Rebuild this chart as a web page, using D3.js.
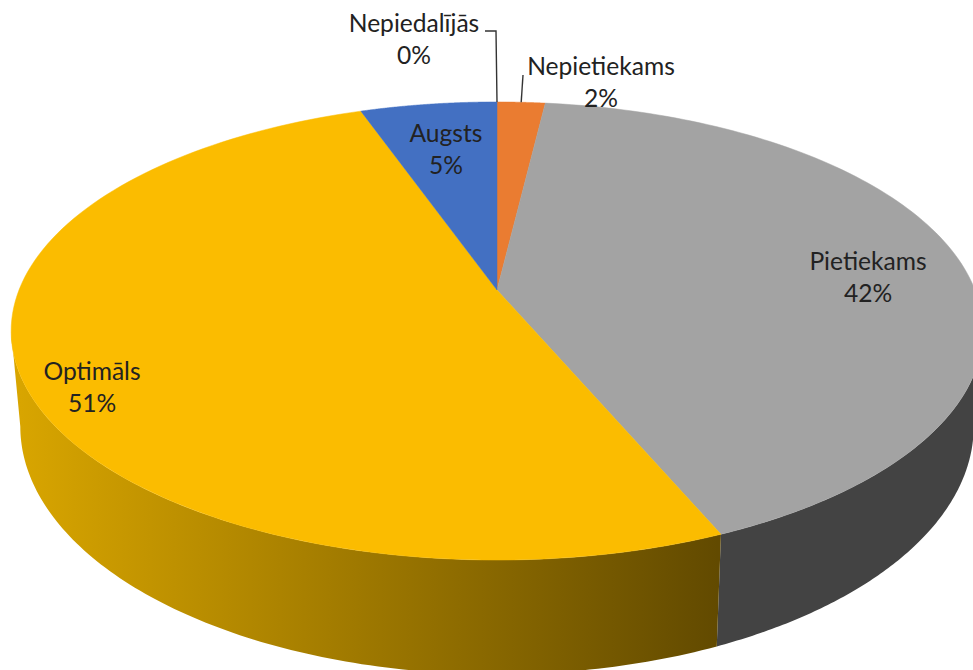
<!DOCTYPE html>
<html><head><meta charset="utf-8">
<script src="https://cdn.jsdelivr.net/npm/d3@7"></script>
<style>html,body{margin:0;padding:0;background:#fff;overflow:hidden}svg{display:block}text{font-family:Lato,"Open Sans",sans-serif;font-size:24.6px;fill:#222;text-anchor:middle}</style>
</head><body><svg id="c" width="973" height="670"></svg>
<script>
const categories=["Nepiedalījās","Nepietiekams","Pietiekams","Optimāls","Augsts"];
const values=[0,1.9,41.7,51,5.4];
const topColors=["#5B9BD5","#EA7C31","#A3A3A3","#FBBC00","#4370C2"];
const labelPos=[[414,24],[601,67],[868,262],[92,372],[446,134]];
const svg=d3.select("#c");
const total=d3.sum(values);
const pie=d3.pie().sort(null).value(d=>d)(values);
const topDisc={cx:497,ay:290,rx:478,ry:221.7,k:.179};
const lowDisc={cx:497,ay:382,rx:469,ry:240,k:.179};
const proj=(t,d)=>{const u=Math.sin(t),v=Math.cos(t),w=1+d.k*v;return [d.cx+d.rx*u/w,d.ay-d.ry*v/w];};
const line=d3.line();
const arcPts=(a0,a1,d)=>d3.range(0,121).map(i=>proj(a0+(a1-a0)*i/120,d));
const defs=svg.append("defs");
const g=defs.append("linearGradient").attr("id","wallGold").attr("gradientUnits","userSpaceOnUse").attr("x1",20).attr("x2",718).attr("y1",0).attr("y2",0);
g.append("stop").attr("offset",0).attr("stop-color","#D8A500");
g.append("stop").attr("offset",1).attr("stop-color","#624A00");
// walls: only the front part, between the two silhouette tangents
const tangent=Math.acos(-topDisc.k);
const wallFill={2:"#434343",3:"url(#wallGold)"};
svg.append("g").selectAll("path").data(pie.filter(d=>wallFill[d.index]))
 .join("path")
 .attr("d",d=>{
   const a0=Math.max(d.startAngle,tangent),a1=Math.min(d.endAngle,2*Math.PI-tangent);
   return line([...arcPts(a0,a1,topDisc),...arcPts(a0,a1,lowDisc).reverse()])+"Z";})
 .attr("fill",d=>wallFill[d.index]);
// top surface
svg.append("g").selectAll("path").data(pie.filter(d=>d.value>0))
 .join("path")
 .attr("d",d=>line([[topDisc.cx,topDisc.ay],...arcPts(d.startAngle,d.endAngle,topDisc)])+"Z")
 .attr("fill",d=>topColors[d.index])
 .attr("stroke",d=>topColors[d.index]).attr("stroke-width",.5);
// leader lines
const mid=d=>(d.startAngle+d.endAngle)/2;
const leaders=[[pie[0],[[485,31],[496,31]]],[pie[1],[[523,75]]]];
svg.append("g").selectAll("path").data(leaders).join("path")
 .attr("d",([d,pts])=>line([...pts,proj(mid(d),topDisc)]))
 .attr("fill","none").attr("stroke","#333").attr("stroke-width",1.4);
// labels
const lab=svg.append("g").selectAll("text").data(pie).join("text").attr("transform",d=>`translate(${labelPos[d.index]})`);
lab.append("tspan").attr("x",0).attr("y",8).text(d=>categories[d.index]);
lab.append("tspan").attr("x",0).attr("y",40).text(d=>d3.format(".0f")(d.value/total*100)+"%");
</script></body></html>
